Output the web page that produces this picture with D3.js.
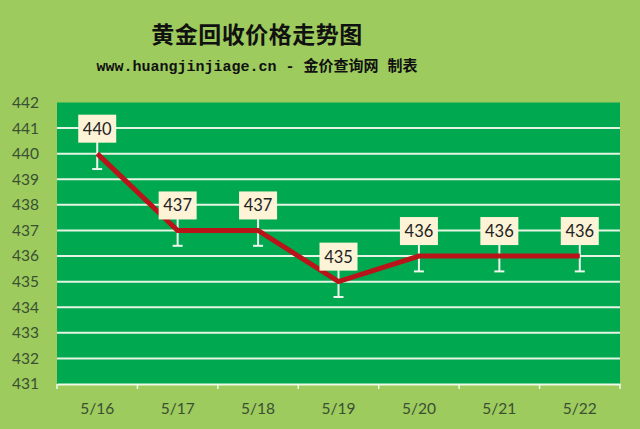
<!DOCTYPE html>
<html>
<head>
<meta charset="UTF-8">
<title>黄金回收价格走势图</title>
<script src="https://cdn.jsdelivr.net/npm/d3@7"></script>
<style>
  body { margin: 0; background: #9dcb5d; }
  svg { display: block; }
</style>
</head>
<body>
<div id="chart"></div>
<script>
// data
var dates = ["5/16", "5/17", "5/18", "5/19", "5/20", "5/21", "5/22"];
var prices = [440, 437, 437, 435, 436, 436, 436];
var yTicks = [431, 432, 433, 434, 435, 436, 437, 438, 439, 440, 441, 442];
var errAmount = 0.6;

var W = 640, H = 429;
var plot = {left: 57, right: 620, top: 102.5, bottom: 384};

var svg = d3.select("#chart").append("svg")
    .attr("width", W)
    .attr("height", H);

svg.append("rect").attr("width", W).attr("height", H).attr("fill", "#9dcb5d");

// titles
svg.append("text")
    .attr("x", 257).attr("y", 43)
    .attr("text-anchor", "middle")
    .style("font-family", "'Noto Sans CJK SC', sans-serif")
    .style("font-weight", "bold")
    .style("font-size", "23px")
    .style("letter-spacing", "0.5px")
    .attr("fill", "#111")
    .text("黄金回收价格走势图");

svg.append("text")
    .attr("x", 257).attr("y", 71)
    .attr("text-anchor", "middle")
    .style("font-family", "'Liberation Mono', 'Noto Sans CJK SC', monospace")
    .style("font-weight", "bold")
    .style("font-size", "15px")
    .attr("fill", "#111")
    .text("www.huangjinjiage.cn - 金价查询网 制表");

var x = d3.scaleBand()
    .domain(dates)
    .range([plot.left, plot.right]);

var y = d3.scaleLinear()
    .domain([431, 442])
    .range([plot.bottom, plot.top]);

// plot area
svg.append("rect")
    .attr("x", plot.left).attr("y", plot.top)
    .attr("width", plot.right - plot.left)
    .attr("height", plot.bottom - plot.top)
    .attr("fill", "#00a94f");

// grid lines
svg.append("g")
    .selectAll("line")
    .data(yTicks.slice(1, -1))
    .enter()
    .append("line")
    .attr("x1", plot.left).attr("x2", plot.right)
    .attr("y1", function (d) { return y(d); })
    .attr("y2", function (d) { return y(d); })
    .attr("stroke", "#e4f5e4")
    .attr("stroke-width", 2);

// y axis labels
svg.append("g")
    .selectAll("text")
    .data(yTicks)
    .enter()
    .append("text")
    .attr("x", 39)
    .attr("y", function (d) { return y(d); })
    .attr("dy", "0.35em")
    .attr("text-anchor", "end")
    .style("font-family", "Lato, 'Open Sans', sans-serif")
    .style("font-size", "15.5px")
    .attr("fill", "#3b4f33")
    .text(function (d) { return d; });

// x axis
var xAxis = svg.append("g")
    .attr("transform", "translate(0," + plot.bottom + ")")
    .call(d3.axisBottom(x).tickSize(0).tickPadding(19));
xAxis.select(".domain").attr("stroke", "#f0f8e8").attr("stroke-width", 2);
xAxis.selectAll("text")
    .style("font-family", "Lato, 'Open Sans', sans-serif")
    .style("font-size", "15.5px")
    .attr("fill", "#3b4f33");

// boundary ticks
svg.append("g")
    .selectAll("line")
    .data(dates.concat(["end"]))
    .enter()
    .append("line")
    .attr("x1", function (d, i) { return plot.left + i * x.step(); })
    .attr("x2", function (d, i) { return plot.left + i * x.step(); })
    .attr("y1", plot.bottom)
    .attr("y2", plot.bottom + 5)
    .attr("stroke", "#f0f8e8")
    .attr("stroke-width", 1.5);

var cx = function (d, i) { return x(dates[i]) + x.bandwidth() / 2; };

// error bars
var err = svg.append("g");
err.selectAll("line.bar")
    .data(prices)
    .enter()
    .append("line")
    .attr("class", "bar")
    .attr("x1", cx).attr("x2", cx)
    .attr("y1", function (d) { return y(d + errAmount); })
    .attr("y2", function (d) { return y(d - errAmount); })
    .attr("stroke", "#eef6ee")
    .attr("stroke-width", 2);
err.selectAll("line.cap")
    .data(prices)
    .enter()
    .append("line")
    .attr("class", "cap")
    .attr("x1", function (d, i) { return cx(d, i) - 5; })
    .attr("x2", function (d, i) { return cx(d, i) + 5; })
    .attr("y1", function (d) { return y(d - errAmount); })
    .attr("y2", function (d) { return y(d - errAmount); })
    .attr("stroke", "#eef6ee")
    .attr("stroke-width", 2);

// price line
var line = d3.line()
    .x(function (d, i) { return cx(d, i); })
    .y(function (d) { return y(d); });

svg.append("path")
    .datum(prices)
    .attr("d", line)
    .attr("fill", "none")
    .attr("stroke", "#b8141a")
    .attr("stroke-width", 5)
    .attr("stroke-linejoin", "miter");

// value labels
var labels = svg.append("g")
    .selectAll("g")
    .data(prices)
    .enter()
    .append("g")
    .attr("transform", function (d, i) {
        return "translate(" + cx(d, i) + "," + (y(d) - 25) + ")";
    });
labels.append("rect")
    .attr("x", -19).attr("y", -14)
    .attr("width", 38).attr("height", 28)
    .attr("fill", "#fdf3d6");
labels.append("text")
    .attr("text-anchor", "middle")
    .attr("dy", "0.36em")
    .style("font-family", "Lato, 'Open Sans', sans-serif")
    .style("font-size", "16.5px")
    .attr("fill", "#222")
    .text(function (d) { return d; });
</script>
</body>
</html>
